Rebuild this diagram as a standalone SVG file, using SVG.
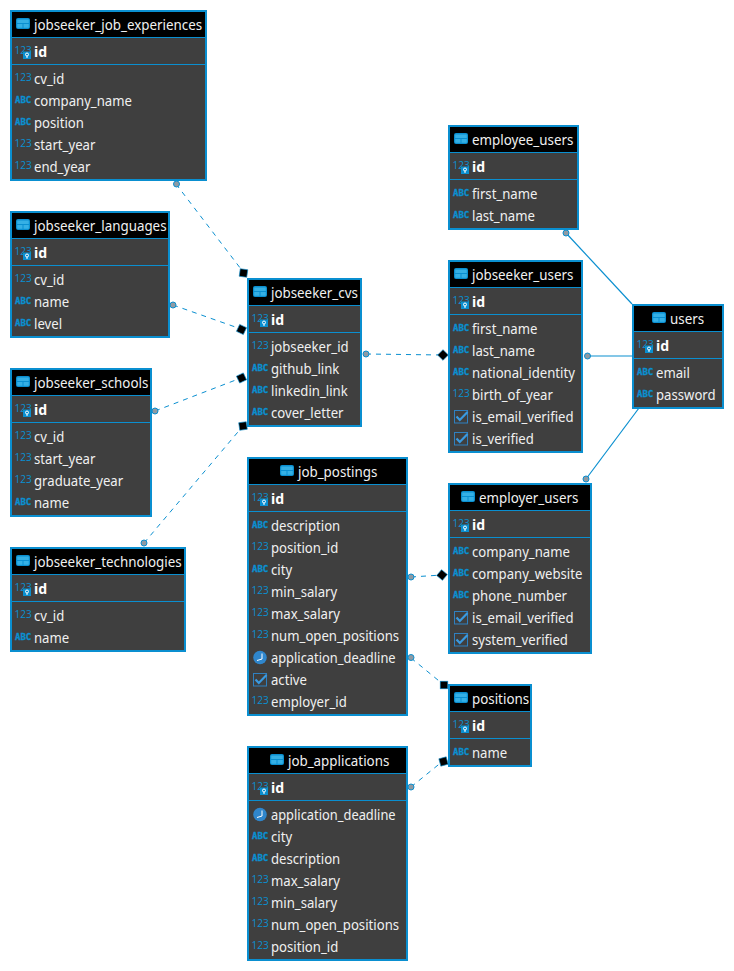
<svg xmlns="http://www.w3.org/2000/svg" width="734" height="971" viewBox="0 0 734 971">
<style>
.box{fill:#3f3f3f;stroke:#0a8fd0;stroke-width:2}
.head{fill:#000}
.sep{stroke:#0a8fd0;stroke-width:1;fill:none}
text{font-family:"Noto Sans","Open Sans",sans-serif;transform-box:fill-box;transform-origin:0 50%}
.t{font-size:14px;fill:#f0f0f0;transform:scaleX(.94)}
.h{font-size:14px;fill:#f0f0f0;transform:scaleX(.955)}
.b{font-size:14px;fill:#fff;font-weight:700}
.n{font-size:11.5px;fill:#0a8fd0;font-family:"Open Sans","Noto Sans",sans-serif;transform:scaleX(.88)}
.a{font-size:9.5px;fill:#0a8fd0;font-weight:700;stroke:#0a8fd0;stroke-width:.35;font-family:"DejaVu Sans Mono",monospace;transform:scaleX(.95)}
.dash{stroke:#0a8fd0;stroke-width:1;stroke-dasharray:5 5;fill:none}
.solid{stroke:#0a8fd0;stroke-width:1.2;fill:none}
.o{fill:#8f9aa3;stroke:#0a8fd0;stroke-width:1}
.d{fill:#000;stroke:#0a8fd0;stroke-width:.6}
</style>
<defs>
<g id="tbl"><rect x="0" y="0" width="14" height="11" rx="2" fill="#0a8fd0"/><rect x="1.2" y="1.5" width="11.6" height="3.5" fill="#35b0e5"/><rect x="1.2" y="6" width="5.3" height="3.8" fill="#35b0e5"/><rect x="7.500" y="6" width="5.3" height="3.8" fill="#35b0e5"/></g>
<g id="key"><rect x="0" y="0" width="8" height="7.5" fill="#0a8fd0"/><circle cx="4" cy="3" r="1.5" fill="none" stroke="#fff" stroke-width="1"/><path d="M4 4.500V6.500" stroke="#fff" stroke-width="1"/></g>
<g id="chk"><rect x="0.5" y="0.5" width="13" height="12.5" fill="none" stroke="#2f80c0" stroke-width="1"/><path d="M2.500 6.500L5.800 10L13.500 2" fill="none" stroke="#3a9ae0" stroke-width="2.200"/></g>
<g id="clk"><circle cx="0" cy="0" r="6.8" fill="#2f86cc"/><path d="M2 -4V1.500L-3 3" fill="none" stroke="#fff" stroke-width="1"/></g>
</defs>
<rect width="734" height="971" fill="#fff"/>
<g id="connectors">
<path class="dash" d="M176 184L244 273"/>
<path class="dash" d="M173 305L241 329"/>
<path class="dash" d="M155 411L241 378"/>
<path class="dash" d="M144 543L243 426"/>
<path class="dash" d="M366 354L443 355"/>
<path class="dash" d="M411 577L442 575"/>
<path class="dash" d="M411 658L444 685"/>
<path class="dash" d="M411 787L443 761"/>
<path class="solid" d="M566 233L632 304"/>
<path class="solid" d="M587 356L632 356"/>
<path class="solid" d="M586 479L639 408"/>
<circle class="o" cx="176.500" cy="184" r="3"/><circle class="o" cx="173" cy="305" r="3"/><circle class="o" cx="155" cy="411" r="3"/><circle class="o" cx="144" cy="543" r="3"/><circle class="o" cx="366" cy="354" r="3"/><circle class="o" cx="411" cy="577" r="3"/><circle class="o" cx="411" cy="657.500" r="3"/><circle class="o" cx="411" cy="787" r="3"/><circle class="o" cx="566" cy="233" r="3"/><circle class="o" cx="587.500" cy="356" r="3"/><circle class="o" cx="586" cy="479" r="3"/>
<rect class="d" x="-3.800" y="-3.800" width="7.6" height="7.6" transform="translate(243.500 273) rotate(8)"/>
<rect class="d" x="-3.800" y="-3.800" width="7.6" height="7.6" transform="translate(241.500 329.500) rotate(25)"/>
<rect class="d" x="-3.800" y="-3.800" width="7.6" height="7.6" transform="translate(241.500 378) rotate(-25)"/>
<rect class="d" x="-3.800" y="-3.800" width="7.6" height="7.6" transform="translate(243 426) rotate(-8)"/>
<rect class="d" x="-3.800" y="-3.800" width="7.6" height="7.6" transform="translate(443 355) rotate(45)"/>
<rect class="d" x="-3.800" y="-3.800" width="7.6" height="7.6" transform="translate(442 575) rotate(40)"/>
<rect class="d" x="-3.800" y="-3.800" width="7.6" height="7.6" transform="translate(444 685) rotate(0)"/>
<rect class="d" x="-3.800" y="-3.800" width="7.6" height="7.6" transform="translate(443.500 761.500) rotate(-15)"/>
</g>

<g id="jobseeker_job_experiences" transform="translate(10,10)">
<rect class="box" x="1" y="1" width="195" height="169"/><rect class="head" x="2" y="2" width="193" height="25"/>
<path class="sep" d="M2 27.500H195M2 54.500H195"/>
<use href="#tbl" x="6" y="8"/><text class="h" x="24" y="20">jobseeker_job_experiences</text>
<text class="n" x="4.500" y="44">123</text><use href="#key" x="13" y="41.500"/><text class="b" x="24" y="47">id</text>
<text class="n" x="4.500" y="71">123</text><text class="t" x="24" y="74">cv_id</text>
<text class="a" x="5" y="93">ABC</text><text class="t" x="24" y="96">company_name</text>
<text class="a" x="5" y="115">ABC</text><text class="t" x="24" y="118">position</text>
<text class="n" x="4.500" y="137">123</text><text class="t" x="24" y="140">start_year</text>
<text class="n" x="4.500" y="159">123</text><text class="t" x="24" y="162">end_year</text>
</g>

<g id="jobseeker_languages" transform="translate(10,211)">
<rect class="box" x="1" y="1" width="158" height="125"/><rect class="head" x="2" y="2" width="156" height="25"/>
<path class="sep" d="M2 27.500H158M2 54.500H158"/>
<use href="#tbl" x="6" y="8"/><text class="h" x="24" y="20">jobseeker_languages</text>
<text class="n" x="4.500" y="44">123</text><use href="#key" x="13" y="41.500"/><text class="b" x="24" y="47">id</text>
<text class="n" x="4.500" y="71">123</text><text class="t" x="24" y="74">cv_id</text>
<text class="a" x="5" y="93">ABC</text><text class="t" x="24" y="96">name</text>
<text class="a" x="5" y="115">ABC</text><text class="t" x="24" y="118">level</text>
</g>

<g id="jobseeker_schools" transform="translate(10,368)">
<rect class="box" x="1" y="1" width="140" height="147"/><rect class="head" x="2" y="2" width="138" height="25"/>
<path class="sep" d="M2 27.500H140M2 54.500H140"/>
<use href="#tbl" x="6" y="8"/><text class="h" x="24" y="20">jobseeker_schools</text>
<text class="n" x="4.500" y="44">123</text><use href="#key" x="13" y="41.500"/><text class="b" x="24" y="47">id</text>
<text class="n" x="4.500" y="71">123</text><text class="t" x="24" y="74">cv_id</text>
<text class="n" x="4.500" y="93">123</text><text class="t" x="24" y="96">start_year</text>
<text class="n" x="4.500" y="115">123</text><text class="t" x="24" y="118">graduate_year</text>
<text class="a" x="5" y="137">ABC</text><text class="t" x="24" y="140">name</text>
</g>

<g id="jobseeker_technologies" transform="translate(10,547)">
<rect class="box" x="1" y="1" width="174" height="103"/><rect class="head" x="2" y="2" width="172" height="25"/>
<path class="sep" d="M2 27.500H174M2 54.500H174"/>
<use href="#tbl" x="6" y="8"/><text class="h" x="24" y="20">jobseeker_technologies</text>
<text class="n" x="4.500" y="44">123</text><use href="#key" x="13" y="41.500"/><text class="b" x="24" y="47">id</text>
<text class="n" x="4.500" y="71">123</text><text class="t" x="24" y="74">cv_id</text>
<text class="a" x="5" y="93">ABC</text><text class="t" x="24" y="96">name</text>
</g>

<g id="jobseeker_cvs" transform="translate(247,278)">
<rect class="box" x="1" y="1" width="113" height="147"/><rect class="head" x="2" y="2" width="111" height="25"/>
<path class="sep" d="M2 27.500H113M2 54.500H113"/>
<use href="#tbl" x="6" y="8"/><text class="h" x="24" y="20">jobseeker_cvs</text>
<text class="n" x="4.500" y="44">123</text><use href="#key" x="13" y="41.500"/><text class="b" x="24" y="47">id</text>
<text class="n" x="4.500" y="71">123</text><text class="t" x="24" y="74">jobseeker_id</text>
<text class="a" x="5" y="93">ABC</text><text class="t" x="24" y="96">github_link</text>
<text class="a" x="5" y="115">ABC</text><text class="t" x="24" y="118">linkedin_link</text>
<text class="a" x="5" y="137">ABC</text><text class="t" x="24" y="140">cover_letter</text>
</g>

<g id="job_postings" transform="translate(247,457)">
<rect class="box" x="1" y="1" width="159" height="257"/><rect class="head" x="2" y="2" width="157" height="25"/>
<path class="sep" d="M2 27.500H159M2 54.500H159"/>
<use href="#tbl" x="33" y="8"/><text class="h" x="51" y="20">job_postings</text>
<text class="n" x="4.500" y="44">123</text><use href="#key" x="13" y="41.500"/><text class="b" x="24" y="47">id</text>
<text class="a" x="5" y="71">ABC</text><text class="t" x="24" y="74">description</text>
<text class="n" x="4.500" y="93">123</text><text class="t" x="24" y="96">position_id</text>
<text class="a" x="5" y="115">ABC</text><text class="t" x="24" y="118">city</text>
<text class="n" x="4.500" y="137">123</text><text class="t" x="24" y="140">min_salary</text>
<text class="n" x="4.500" y="159">123</text><text class="t" x="24" y="162">max_salary</text>
<text class="n" x="4.500" y="181">123</text><text class="t" x="24" y="184">num_open_positions</text>
<use href="#clk" x="13" y="200.500"/><text class="t" x="24" y="206" style="transform:scaleX(.92)">application_deadline</text>
<use href="#chk" x="6" y="216"/><text class="t" x="24" y="228">active</text>
<text class="n" x="4.500" y="247">123</text><text class="t" x="24" y="250">employer_id</text>
</g>

<g id="job_applications" transform="translate(247,746)">
<rect class="box" x="1" y="1" width="159" height="213"/><rect class="head" x="2" y="2" width="157" height="25"/>
<path class="sep" d="M2 27.500H159M2 54.500H159"/>
<use href="#tbl" x="23" y="8"/><text class="h" x="41" y="20">job_applications</text>
<text class="n" x="4.500" y="44">123</text><use href="#key" x="13" y="41.500"/><text class="b" x="24" y="47">id</text>
<use href="#clk" x="13" y="68.500"/><text class="t" x="24" y="74" style="transform:scaleX(.92)">application_deadline</text>
<text class="a" x="5" y="93">ABC</text><text class="t" x="24" y="96">city</text>
<text class="a" x="5" y="115">ABC</text><text class="t" x="24" y="118">description</text>
<text class="n" x="4.500" y="137">123</text><text class="t" x="24" y="140">max_salary</text>
<text class="n" x="4.500" y="159">123</text><text class="t" x="24" y="162">min_salary</text>
<text class="n" x="4.500" y="181">123</text><text class="t" x="24" y="184">num_open_positions</text>
<text class="n" x="4.500" y="203">123</text><text class="t" x="24" y="206">position_id</text>
</g>

<g id="employee_users" transform="translate(448,125)">
<rect class="box" x="1" y="1" width="129" height="103"/><rect class="head" x="2" y="2" width="127" height="25"/>
<path class="sep" d="M2 27.500H129M2 54.500H129"/>
<use href="#tbl" x="6" y="8"/><text class="h" x="24" y="20">employee_users</text>
<text class="n" x="4.500" y="44">123</text><use href="#key" x="13" y="41.500"/><text class="b" x="24" y="47">id</text>
<text class="a" x="5" y="71">ABC</text><text class="t" x="24" y="74">first_name</text>
<text class="a" x="5" y="93">ABC</text><text class="t" x="24" y="96">last_name</text>
</g>

<g id="jobseeker_users" transform="translate(448,260)">
<rect class="box" x="1" y="1" width="133" height="191"/><rect class="head" x="2" y="2" width="131" height="25"/>
<path class="sep" d="M2 27.500H133M2 54.500H133"/>
<use href="#tbl" x="6" y="8"/><text class="h" x="24" y="20">jobseeker_users</text>
<text class="n" x="4.500" y="44">123</text><use href="#key" x="13" y="41.500"/><text class="b" x="24" y="47">id</text>
<text class="a" x="5" y="71">ABC</text><text class="t" x="24" y="74">first_name</text>
<text class="a" x="5" y="93">ABC</text><text class="t" x="24" y="96">last_name</text>
<text class="a" x="5" y="115">ABC</text><text class="t" x="24" y="118">national_identity</text>
<text class="n" x="4.500" y="137">123</text><text class="t" x="24" y="140">birth_of_year</text>
<use href="#chk" x="6" y="150"/><text class="t" x="24" y="162">is_email_verified</text>
<use href="#chk" x="6" y="172"/><text class="t" x="24" y="184">is_verified</text>
</g>

<g id="users" transform="translate(632,304)">
<rect class="box" x="1" y="1" width="90" height="103"/><rect class="head" x="2" y="2" width="88" height="25"/>
<path class="sep" d="M2 27.500H90M2 54.500H90"/>
<use href="#tbl" x="20" y="8"/><text class="h" x="38" y="20">users</text>
<text class="n" x="4.500" y="44">123</text><use href="#key" x="13" y="41.500"/><text class="b" x="24" y="47">id</text>
<text class="a" x="5" y="71">ABC</text><text class="t" x="24" y="74">email</text>
<text class="a" x="5" y="93">ABC</text><text class="t" x="24" y="96">password</text>
</g>

<g id="employer_users" transform="translate(448,483)">
<rect class="box" x="1" y="1" width="142" height="169"/><rect class="head" x="2" y="2" width="140" height="25"/>
<path class="sep" d="M2 27.500H142M2 54.500H142"/>
<use href="#tbl" x="13" y="8"/><text class="h" x="31" y="20">employer_users</text>
<text class="n" x="4.500" y="44">123</text><use href="#key" x="13" y="41.500"/><text class="b" x="24" y="47">id</text>
<text class="a" x="5" y="71">ABC</text><text class="t" x="24" y="74">company_name</text>
<text class="a" x="5" y="93">ABC</text><text class="t" x="24" y="96">company_website</text>
<text class="a" x="5" y="115">ABC</text><text class="t" x="24" y="118">phone_number</text>
<use href="#chk" x="6" y="128"/><text class="t" x="24" y="140">is_email_verified</text>
<use href="#chk" x="6" y="150"/><text class="t" x="24" y="162">system_verified</text>
</g>

<g id="positions" transform="translate(448,684)">
<rect class="box" x="1" y="1" width="82" height="81"/><rect class="head" x="2" y="2" width="80" height="25"/>
<path class="sep" d="M2 27.500H82M2 54.500H82"/>
<use href="#tbl" x="6" y="8"/><text class="h" x="24" y="20">positions</text>
<text class="n" x="4.500" y="44">123</text><use href="#key" x="13" y="41.500"/><text class="b" x="24" y="47">id</text>
<text class="a" x="5" y="71">ABC</text><text class="t" x="24" y="74">name</text>
</g>
</svg>
